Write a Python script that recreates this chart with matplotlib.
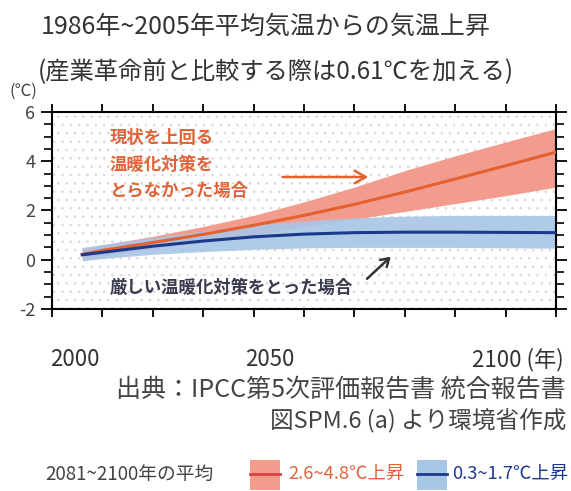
import numpy as np
import matplotlib
matplotlib.use("Agg")
import matplotlib.pyplot as plt
from matplotlib.patches import Rectangle
from matplotlib.ticker import MultipleLocator

plt.rcParams['font.family'] = ['Noto Sans CJK JP', 'DejaVu Sans']
plt.rcParams['hatch.linewidth'] = 0.6
plt.rcParams['hatch.color'] = '#d8d8d8'

# values (relative to 1986-2005 mean, deg C)
years = [2006, 2010, 2020, 2030, 2040, 2050, 2060, 2070, 2080, 2090, 2100]
high_mean = [0.22, 0.38, 0.70, 1.03, 1.40, 1.80, 2.25, 2.75, 3.28, 3.82, 4.37]
high_upper = [0.45, 0.60, 0.95, 1.35, 1.80, 2.35, 2.95, 3.62, 4.22, 4.78, 5.33]
high_lower = [0.00, 0.15, 0.45, 0.72, 1.02, 1.35, 1.65, 1.96, 2.28, 2.60, 2.95]
low_mean = [0.20, 0.30, 0.55, 0.76, 0.93, 1.04, 1.10, 1.12, 1.12, 1.11, 1.10]
low_upper = [0.50, 0.62, 0.90, 1.16, 1.40, 1.58, 1.70, 1.77, 1.80, 1.80, 1.80]
low_lower = [-0.05, 0.05, 0.22, 0.33, 0.42, 0.48, 0.50, 0.50, 0.50, 0.48, 0.47]

high_label = "2.6~4.8℃上昇"
low_label = "0.3~1.7℃上昇"

RED_LINE = '#e2612f'
RED_BAND = '#f29c8e'
BLUE_LINE = '#1c3a8c'
BLUE_BAND = '#a8c6e6'

fig = plt.figure(figsize=(5.71, 4.91), dpi=100)
ax = fig.add_axes([0.0911, 0.3707, 0.8827, 0.4012])

# stippled background
ax.add_patch(Rectangle((0, 0), 1, 1, transform=ax.transAxes, facecolor='white',
                       hatch='..', edgecolor='#d8d8d8', linewidth=0, zorder=0))

ax.fill_between(years, high_lower, high_upper, color=RED_BAND, lw=0, zorder=1)
ax.fill_between(years, low_lower, low_upper, color=BLUE_BAND, lw=0, alpha=0.9, zorder=2)
ax.plot(years, high_mean, color=RED_LINE, lw=2.2, zorder=3)
ax.plot(years, low_mean, color=BLUE_LINE, lw=2.2, zorder=4)

ax.set_xlim(2000, 2100)
ax.set_ylim(-2, 6)
ax.xaxis.set_major_locator(MultipleLocator(10))
ax.yaxis.set_minor_locator(MultipleLocator(0.5))
ax.tick_params(axis='x', which='both', direction='out', top=True, bottom=True,
               length=6, width=1.3, labelbottom=False)
ax.tick_params(axis='y', which='major', direction='out', left=True, right=True,
               length=8, width=1.3, labelsize=13, labelcolor='#444444', pad=4)
ax.tick_params(axis='y', which='minor', direction='out', left=True, right=True,
               length=6, width=1.2)
ax.set_yticks([6, 4, 2, 0, -2])
ax.set_yticklabels(['6', '4', '2', '0', '-2'])
for s in ax.spines.values():
    s.set_linewidth(1.5)

# annotations
ax.text(2011.5, 5.3, "現状を上回る\n温暖化対策を\nとらなかった場合", color='#e0643a',
        fontsize=12.5, fontweight='bold', va='top', ha='left', linespacing=1.6, zorder=5)
ax.annotate("", xy=(2063.3, 3.36), xytext=(2045.2, 3.36),
            arrowprops=dict(arrowstyle='->,head_length=0.8,head_width=0.45',
                            color=RED_LINE, lw=1.8), zorder=5)
ax.text(2011.5, -1.15, "厳しい温暖化対策をとった場合", color='#3b3b4f',
        fontsize=12.5, fontweight='bold', va='center', ha='left', zorder=5)
ax.annotate("", xy=(2067.6, 0.2), xytext=(2062.1, -0.85),
            arrowprops=dict(arrowstyle='->,head_length=0.55,head_width=0.35',
                            color='#333333', lw=1.8), zorder=5)

# titles
fig.text(0.466, 1 - 27 / 491, "1986年~2005年平均気温からの気温上昇", fontsize=18,
         color='#333333', ha='center', va='center')
fig.text(0.483, 1 - 72 / 491, "(産業革命前と比較する際は0.61℃を加える)", fontsize=17.5,
         color='#333333', ha='center', va='center')
fig.text(23 / 571, 1 - 91 / 491, "(℃)", fontsize=12, color='#444444',
         ha='center', va='center')

# x tick labels
fig.text(75 / 571, 1 - 360 / 491, "2000", fontsize=16, color='#333333', ha='center', va='center')
fig.text(270 / 571, 1 - 360 / 491, "2050", fontsize=16, color='#333333', ha='center', va='center')
fig.text(472 / 571, 1 - 360 / 491, "2100 (年)", fontsize=16, color='#333333', ha='left', va='center')

# source
fig.text(566 / 571, 1 - 390 / 491, "出典：IPCC第5次評価報告書 統合報告書", fontsize=18,
         color='#444444', ha='right', va='center')
fig.text(566 / 571, 1 - 421 / 491, "図SPM.6 (a) より環境省作成", fontsize=17,
         color='#444444', ha='right', va='center')

# legend row
ly = 1 - 474 / 491
fig.text(45 / 571, ly, "2081~2100年の平均", fontsize=13.5, color='#444444', ha='left', va='center')
fig.patches.append(Rectangle((250 / 571, 1 - 490 / 491), 30 / 571, 30 / 491,
                             transform=fig.transFigure, facecolor=RED_BAND, lw=0))
fig.lines.append(plt.Line2D([250 / 571, 280 / 571], [ly, ly], transform=fig.transFigure,
                            color='#d9413e', lw=2))
fig.text(288 / 571, ly, high_label, fontsize=13.2, color='#e0643a', ha='left', va='center')
fig.patches.append(Rectangle((417 / 571, 1 - 490 / 491), 30 / 571, 30 / 491,
                             transform=fig.transFigure, facecolor=BLUE_BAND, lw=0))
fig.lines.append(plt.Line2D([417 / 571, 447 / 571], [ly, ly], transform=fig.transFigure,
                            color=BLUE_LINE, lw=2))
fig.text(452 / 571, ly, low_label, fontsize=13.2, color='#1c3a8c', ha='left', va='center')

fig.savefig("out.png", dpi=100)
